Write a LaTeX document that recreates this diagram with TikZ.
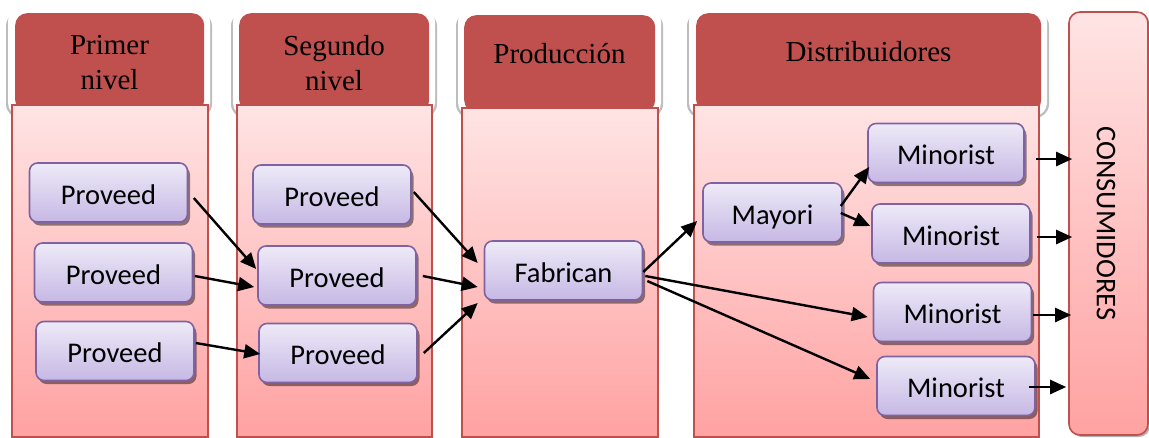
\documentclass[tikz,border=0pt]{standalone}
\usepackage{fontspec}
\setmainfont{Liberation Serif}
\newfontfamily\boxfont{Carlito}
\usetikzlibrary{shadows,arrows.meta}
\definecolor{hdrred}{HTML}{C0504D}
\definecolor{bodytop}{HTML}{FFE4E4}
\definecolor{bodybot}{HTML}{FFA2A2}
\definecolor{boxtop}{HTML}{EEEAF8}
\definecolor{boxbot}{HTML}{C6B8E4}
\definecolor{boxline}{HTML}{7F62A3}
\definecolor{framegray}{HTML}{BDBDBD}
\begin{document}
\begin{tikzpicture}[x=1pt,y=-1pt,
  hdr/.style={fill=hdrred, rounded corners=12pt, inner sep=0pt, anchor=north west},
  hdrtext/.style={font=\fontsize{29}{35}\selectfont, align=center, inner sep=0pt},
  body/.style={draw=hdrred, line width=1.6pt, top color=bodytop, bottom color=bodybot,
    inner sep=0pt, anchor=north west},
  pbox/.style={draw=boxline, line width=1.6pt, rounded corners=8pt,
    top color=boxtop, bottom color=boxbot, minimum width=158pt, minimum height=59pt,
    inner sep=0pt, text height=23pt, text depth=0pt,
    font=\boxfont\fontsize{28.5}{34}\selectfont,
    drop shadow={shadow xshift=2.5pt, shadow yshift=-3.5pt, fill=black, opacity=0.45}},
  arr/.style={-{Triangle[length=16pt,width=14pt]}, line width=2.4pt, black}]

\useasboundingbox (0,0) rectangle (1149,437);

% header frames (white card with a grey rim)
\foreach \l/\r in {6/212, 231/437, 456/663, 687/1049}{
  \fill[framegray, rounded corners=14pt] (\l,12) rectangle (\r,118);
  \fill[white, rounded corners=13pt] (\l+2,8) rectangle (\r-2,116);
}

% red headers
\node[hdr, minimum width=189pt, minimum height=99pt] (h1) at (15,13) {};
\node[hdr, minimum width=190pt, minimum height=99pt] (h2) at (239,13) {};
\node[hdr, minimum width=191pt, minimum height=97pt] (h3) at (464,15) {};
\node[hdr, minimum width=345pt, minimum height=99pt] (h4) at (696,13) {};

\node[hdrtext] (t1) at (109.5,62.6) {Primer\\nivel};
\node[hdrtext] (t2) at (334,62.6) {Segundo\\nivel};
\node[hdrtext, anchor=base] (t3) at (559.5,63) {Producción};
\node[hdrtext, anchor=base] (t4) at (868.5,61) {Distribuidores};

% column bodies
\node[body, minimum width=196pt, minimum height=332pt] (b1) at (11,104) {};
\node[body, minimum width=195pt, minimum height=332pt] (b2) at (236,104) {};
\node[body, minimum width=196pt, minimum height=329pt] (b3) at (461,107) {};
\node[body, minimum width=345pt, minimum height=332pt] (b4) at (693,104) {};

% consumers bar
\node[draw=hdrred, line width=1.6pt, rounded corners=11pt, top color=bodytop,
  bottom color=bodybot, minimum width=79pt, minimum height=423pt, inner sep=0pt,
  drop shadow={shadow xshift=2pt, shadow yshift=-2pt, fill=black, opacity=0.3}]
  (cons) at (1108.5,223.5) {};
\node[rotate=-90, inner sep=0pt, font=\boxfont\fontsize{28.5}{34}\selectfont]
  (constext) at (1106,223.5) {CONSUMIDORES};

% boxes
\node[pbox] (p11) at (108.5,192.5) {Proveed};
\node[pbox] (p12) at (113.5,272.5) {Proveed};
\node[pbox] (p13) at (115,351) {Proveed};
\node[pbox] (p21) at (332,194.5) {Proveed};
\node[pbox] (p22) at (337,275.5) {Proveed};
\node[pbox] (p23) at (338,353) {Proveed};
\node[pbox] (fab) at (563.5,270.5) {Fabrican};
\node[pbox, minimum width=139pt] (may) at (772.5,212.5) {Mayori};
\node[pbox, minimum width=156pt] (m1) at (946,153) {Minorist};
\node[pbox] (m2) at (951,233.5) {Minorist};
\node[pbox] (m3) at (952.5,312) {Minorist};
\node[pbox] (m4) at (956,386) {Minorist};

% connectors
\draw[arr] ([shift={(5.5,5.5)}]p11.east) -- ([shift={(-1,-6.5)}]p22.west);
\draw[arr] ([shift={(1.5,3.5)}]p12.east) -- ([shift={(-3,11.5)}]p22.west);
\draw[arr] ([shift={(1,-8)}]p13.east) -- ([shift={(2,1)}]p23.west);
\draw[arr] ([shift={(2,-2.5)}]p21.east) -- ([shift={(-6,-7.5)}]fab.west);
\draw[arr] ([shift={(6,0.5)}]p22.east) -- ([shift={(-6,16.5)}]fab.west);
\draw[arr] ([shift={(6,0)}]p23.east) -- ([shift={(-6,32.5)}]fab.west);
\draw[arr] ([shift={(0,1.5)}]fab.east) -- ([shift={(-5,8.5)}]may.west);
\draw[arr] ([shift={(2,5.5)}]fab.east) -- ([shift={(-5,5)}]m3.west);
\draw[arr] ([shift={(4,10.5)}]fab.east) -- ([shift={(-6,-7)}]m4.west);
\draw[arr] ([shift={(-2,-6.5)}]may.east) -- ([shift={(2,14)}]m1.west);
\draw[arr] ([shift={(-2,0.5)}]may.east) -- ([shift={(-1,-7.5)}]m2.west);
\draw[arr] ([shift={(11,6)}]m1.east) -- ([shift={(4,-64.5)}]cons.west);
\draw[arr] ([shift={(6,3.5)}]m2.east) -- ([shift={(4,13.5)}]cons.west);
\draw[arr] ([shift={(1,3)}]m3.east) -- ([shift={(3,91.5)}]cons.west);
\draw[arr] ([shift={(-7,1)}]m4.east) -- ([shift={(-2,163.5)}]cons.west);
\end{tikzpicture}
\end{document}
